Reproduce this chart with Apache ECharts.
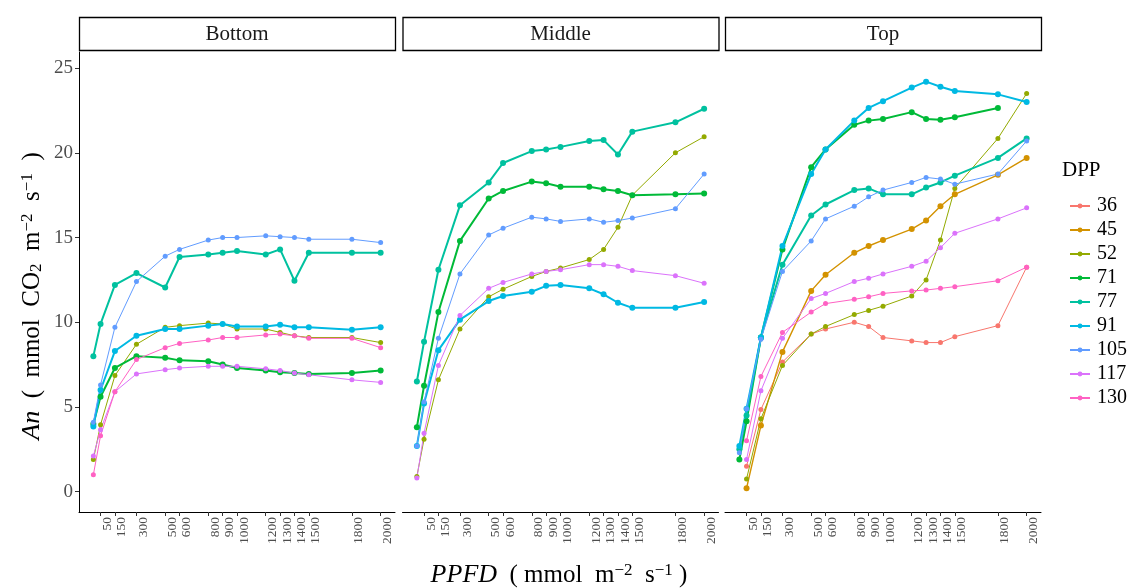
<!DOCTYPE html>
<html>
<head>
<meta charset="utf-8">
<title>An vs PPFD</title>
<script src="https://cdn.jsdelivr.net/npm/echarts@6/dist/echarts.min.js"></script>
<style>
  html, body { margin: 0; padding: 0; background: #fff; }
  #chart { width: 1134px; height: 588px; }
</style>
</head>
<body>
<div id="chart"></div>
<script>
const ppfd = [0, 50, 150, 300, 500, 600, 800, 900, 1000, 1200, 1300, 1400, 1500, 1800, 2000]
const ppfdTicks = [50, 150, 300, 500, 600, 800, 900, 1000, 1200, 1300, 1400, 1500, 1800, 2000]
const yTicks = [0, 5, 10, 15, 20, 25]
const panels = ['Bottom', 'Middle', 'Top']
const dppLevels = ['36', '45', '52', '71', '77', '91', '105', '117', '130']
const dppColors = ['#F8766D', '#D39200', '#93AA00', '#00BA38', '#00C19F', '#00B9E3', '#619CFF', '#DB72FB', '#FF61C3']

// Bottom canopy layer
const bottom52 = [1.9, 3.95, 6.85, 8.7, 9.7, 9.8, 9.95, 9.9, 9.6, 9.6, 9.4, 9.2, 9.1, 9.1, 8.8]
const bottom71 = [4.0, 5.6, 7.3, 8.0, 7.9, 7.75, 7.7, 7.5, 7.3, 7.15, 7.05, 7.0, 6.95, 7.0, 7.15]
const bottom77 = [8.0, 9.9, 12.2, 12.9, 12.05, 13.85, 14.0, 14.1, 14.2, 14.0, 14.3, 12.45, 14.1, 14.1, 14.1]
const bottom91 = [3.85, 6.0, 8.3, 9.2, 9.6, 9.6, 9.8, 9.9, 9.75, 9.75, 9.85, 9.7, 9.7, 9.55, 9.7]
const bottom105 = [4.1, 6.3, 9.7, 12.4, 13.9, 14.3, 14.85, 15.0, 15.0, 15.1, 15.05, 15.0, 14.9, 14.9, 14.7]
const bottom117 = [2.1, 3.65, 5.9, 6.95, 7.2, 7.3, 7.4, 7.4, 7.4, 7.25, 7.15, 7.0, 6.9, 6.6, 6.45]
const bottom130 = [1.0, 3.3, 5.9, 7.8, 8.5, 8.75, 8.95, 9.1, 9.1, 9.25, 9.3, 9.2, 9.05, 9.05, 8.5]

// Middle canopy layer
const middle52 = [0.9, 3.1, 6.6, 9.6, 11.5, 11.95, 12.7, 13.0, 13.2, 13.7, 14.3, 15.6, 17.5, 20.0, 20.95]
const middle71 = [3.8, 6.25, 10.6, 14.8, 17.3, 17.75, 18.3, 18.2, 18.0, 18.0, 17.85, 17.75, 17.5, 17.55, 17.6]
const middle77 = [6.5, 8.85, 13.1, 16.9, 18.25, 19.4, 20.1, 20.2, 20.35, 20.7, 20.75, 19.9, 21.25, 21.8, 22.6]
const middle91 = [2.7, 5.2, 8.35, 10.15, 11.25, 11.55, 11.8, 12.15, 12.2, 12.0, 11.65, 11.15, 10.85, 10.85, 11.2]
const middle105 = [2.7, 5.3, 9.05, 12.85, 15.15, 15.55, 16.2, 16.1, 15.95, 16.1, 15.9, 16.0, 16.15, 16.7, 18.75]
const middle117 = [0.8, 3.45, 7.45, 10.4, 12.0, 12.35, 12.85, 13.0, 13.1, 13.4, 13.4, 13.3, 13.05, 12.75, 12.3]

// Top canopy layer
const top36 = [null, 1.5, 4.85, 7.65, 9.3, 9.6, 10.0, 9.75, 9.1, 8.9, 8.8, 8.8, 9.15, 9.8, 13.25]
const top45 = [null, 0.2, 3.9, 8.25, 11.85, 12.8, 14.1, 14.5, 14.85, 15.5, 16.0, 16.85, 17.55, 18.7, 19.7]
const top52 = [null, 0.75, 4.3, 7.45, 9.3, 9.75, 10.45, 10.7, 10.95, 11.55, 12.5, 14.85, 17.9, 20.85, 23.5]
const top71 = [1.9, 4.15, 9.1, 14.3, 19.15, 20.2, 21.65, 21.9, 22.0, 22.4, 22.0, 21.95, 22.1, 22.65, null]
const top77 = [2.5, 4.5, 9.1, 13.4, 16.3, 16.95, 17.8, 17.9, 17.55, 17.55, 17.95, 18.25, 18.65, 19.7, 20.85]
const top91 = [2.7, 4.9, 9.1, 14.5, 18.75, 20.2, 21.9, 22.65, 23.05, 23.85, 24.2, 23.9, 23.65, 23.45, 23.0]
const top105 = [2.3, 4.9, 9.0, 13.0, 14.8, 16.1, 16.85, 17.4, 17.8, 18.25, 18.55, 18.45, 18.15, 18.75, 20.7]
const top117 = [null, 1.9, 5.95, 9.05, 11.4, 11.7, 12.4, 12.6, 12.85, 13.3, 13.6, 14.4, 15.25, 16.1, 16.75]
const top130 = [null, 3.0, 6.8, 9.4, 10.6, 11.1, 11.35, 11.5, 11.7, 11.85, 11.9, 12.0, 12.1, 12.45, 13.25]

const panelData = [
  { '52': bottom52, '71': bottom71, '77': bottom77, '91': bottom91, '105': bottom105, '117': bottom117, '130': bottom130 },
  { '52': middle52, '71': middle71, '77': middle77, '91': middle91, '105': middle105, '117': middle117 },
  { '36': top36, '45': top45, '52': top52, '71': top71, '77': top77, '91': top91, '105': top105, '117': top117, '130': top130 }
]

const chart = echarts.init(document.getElementById('chart'), null, { renderer: 'canvas' })
const serif = 'Liberation Serif'
const tickGrey = '#4d4d4d'
const gridLefts = [79, 402.5, 725]
const gridWidth = 316
const thick = { '71': 2, '77': 2, '91': 2, '45': 1.4 }

const grids = gridLefts.map(l => ({ left: l, width: gridWidth, top: 52, height: 460 }))

const xAxes = gridLefts.map((l, i) => ({
  type: 'value',
  gridIndex: i,
  min: -100,
  max: 2100,
  splitLine: { show: false },
  axisLine: { show: true, onZero: false, lineStyle: { color: '#000', width: 1 } },
  axisTick: { show: true, length: 4, customValues: ppfdTicks, lineStyle: { color: '#333' } },
  axisLabel: {
    customValues: ppfdTicks,
    formatter: v => String(v),
    rotate: 90,
    margin: 5,
    verticalAlign: 'top',
    fontSize: 13.5,
    fontFamily: serif,
    color: tickGrey
  }
}))

const yAxes = gridLefts.map((l, i) => ({
  type: 'value',
  gridIndex: i,
  min: -1.2,
  max: 25.95,
  show: i === 0,
  splitLine: { show: false },
  axisLine: { show: true, onZero: false, lineStyle: { color: '#000', width: 1 } },
  axisTick: { show: true, length: 4, customValues: yTicks, lineStyle: { color: '#333' } },
  axisLabel: { customValues: yTicks, margin: 6, fontSize: 19, fontFamily: serif, color: tickGrey }
}))

const series = []
panelData.forEach((layer, p) => {
  dppLevels.forEach((dpp, k) => {
    const vals = layer[dpp]
    if (!vals) return
    series.push({
      name: dpp,
      type: 'line',
      xAxisIndex: p,
      yAxisIndex: p,
      color: dppColors[k],
      symbol: 'circle',
      symbolSize: thick[dpp] ? 6 : 5,
      lineStyle: { width: thick[dpp] || 1 },
      data: ppfd.map((x, i) => [x, vals[i]]).filter(d => d[1] !== null)
    })
  })
})

// facet strips
const strips = []
panels.forEach((name, i) => {
  strips.push({
    type: 'rect',
    shape: { x: gridLefts[i] + 0.5, y: 17.5, width: gridWidth, height: 33 },
    style: { fill: '#fff', stroke: '#000', lineWidth: 1.3 }
  })
  strips.push({
    type: 'text',
    x: gridLefts[i] + gridWidth / 2,
    y: 34,
    style: { text: name, align: 'center', verticalAlign: 'middle', font: '21px "Liberation Serif"', fill: '#1a1a1a' }
  })
})

const titleRich = {
  it: { fontStyle: 'italic', fontSize: 26, fontFamily: serif },
  sub: { fontSize: 17, fontFamily: serif, verticalAlign: 'bottom', padding: [9, 0, 0, 0] },
  sup: { fontSize: 17, fontFamily: serif, verticalAlign: 'top', padding: [0, 0, 9, 0] }
}

const options = {
  backgroundColor: '#fff',
  animation: false,
  grid: grids,
  xAxis: xAxes,
  yAxis: yAxes,
  legend: {
    data: dppLevels,
    orient: 'vertical',
    left: 1064,
    top: 190,
    itemWidth: 20,
    itemHeight: 6,
    itemGap: 2,
    textStyle: { fontFamily: serif, fontSize: 20, lineHeight: 22, color: '#000', padding: [0, 0, 0, 2] }
  },
  graphic: strips.concat([
    {
      type: 'text',
      x: 1062,
      y: 170,
      style: { text: 'DPP', verticalAlign: 'middle', font: '21px "Liberation Serif"', fill: '#000' }
    },
    {
      type: 'text',
      x: 32,
      y: 296,
      rotation: Math.PI / 2,
      style: {
        text: '{it|An}  (  mmol  CO{sub|2}  m{sup|−2}  s{sup|−1}  )',
        rich: titleRich,
        align: 'center',
        verticalAlign: 'middle',
        font: '25px "Liberation Serif"',
        fill: '#000'
      }
    },
    {
      type: 'text',
      x: 559,
      y: 575,
      style: {
        text: '{it|PPFD}  ( mmol  m{sup|−2}  s{sup|−1} )',
        rich: titleRich,
        align: 'center',
        verticalAlign: 'middle',
        font: '25px "Liberation Serif"',
        fill: '#000'
      }
    }
  ]),
  series: series
}

chart.setOption(options)
</script>
</body>
</html>
